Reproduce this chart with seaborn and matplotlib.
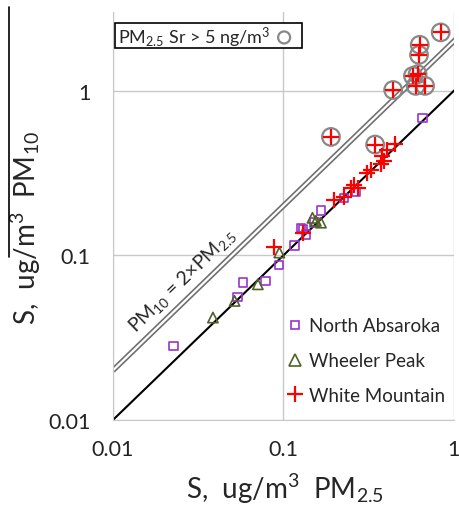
import numpy as np
import pandas as pd
import matplotlib
matplotlib.use("Agg")
import matplotlib.pyplot as plt
from matplotlib.lines import Line2D
from matplotlib.patches import Rectangle
import seaborn as sns

# data (S, ug/m3): PM2.5 vs PM10
na_pm25 = [0.0227, 0.0539, 0.0578, 0.0785, 0.0946, 0.116, 0.136, 0.130, 0.127, 0.152, 0.166, 0.227, 0.266, 0.653]
na_pm10 = [0.0282, 0.0559, 0.0683, 0.0699, 0.087, 0.115, 0.134, 0.144, 0.147, 0.158, 0.187, 0.224, 0.242, 0.683]

wp_pm25 = [0.0386, 0.0517, 0.0708, 0.0946, 0.148, 0.166, 0.155]
wp_pm10 = [0.0419, 0.0529, 0.0667, 0.104, 0.169, 0.158, 0.162]

wm_pm25 = [0.0886, 0.130, 0.199, 0.227, 0.248, 0.272, 0.26, 0.31, 0.326, 0.373, 0.39, 0.381, 0.407, 0.454]
wm_pm10 = [0.112, 0.137, 0.218, 0.227, 0.257, 0.255, 0.269, 0.317, 0.332, 0.357, 0.373, 0.40, 0.439, 0.475]

# White Mountain samples with PM2.5 Sr > 5 ng/m3 (circled)
sr_pm25 = [0.836, 0.63, 0.624, 0.575, 0.612, 0.597, 0.677, 0.44, 0.19, 0.345]
sr_pm10 = [2.26, 1.90, 1.65, 1.23, 1.26, 1.07, 1.07, 1.01, 0.524, 0.471]

sites = ["North Absaroka", "Wheeler Peak", "White Mountain"]

df = pd.concat([
    pd.DataFrame({"pm25": na_pm25, "pm10": na_pm10, "site": sites[0]}),
    pd.DataFrame({"pm25": wp_pm25, "pm10": wp_pm10, "site": sites[1]}),
    pd.DataFrame({"pm25": wm_pm25 + sr_pm25, "pm10": wm_pm10 + sr_pm10, "site": sites[2]}),
], ignore_index=True)
sr = pd.DataFrame({"pm25": sr_pm25, "pm10": sr_pm10})

sns.set_style("white")
plt.rcParams['font.family'] = ['Lato', 'DejaVu Sans']
plt.rcParams['mathtext.fontset'] = 'custom'
plt.rcParams['mathtext.rm'] = 'Lato'
plt.rcParams['mathtext.it'] = 'Lato:italic'
plt.rcParams['mathtext.bf'] = 'Lato:bold'

fig = plt.figure(figsize=(4.59, 5.06), dpi=100)
ax = fig.add_axes([0.246, 0.168, 0.743, 0.806])

# reference lines
xx = np.array([0.01, 1.6])
ax.plot(xx, 2 * xx, color="#707070", lw=4.0, zorder=1, solid_capstyle="butt")
ax.plot(xx, 2 * xx, color="white", lw=1.6, zorder=1.1, solid_capstyle="butt")
ax.plot(xx, xx, color="black", lw=1.5, zorder=1)

# circles for high Sr
sns.scatterplot(data=sr, x="pm25", y="pm10", ax=ax, marker="o", s=160,
                facecolor="none", edgecolor="#888888", linewidth=1.6, zorder=2, legend=False)

colors = {"North Absaroka": "#9933CC", "Wheeler Peak": "#4F6228", "White Mountain": "#FF0000"}
sub = df[df.site == sites[0]]
ax.scatter(sub.pm25, sub.pm10, marker="s", s=36, facecolor="none", edgecolor=colors[sites[0]], linewidth=1.2, zorder=3)
sub = df[df.site == sites[1]]
ax.scatter(sub.pm25, sub.pm10, marker="^", s=55, facecolor="none", edgecolor=colors[sites[1]], linewidth=1.2, zorder=3)
sub = df[df.site == sites[2]]
ax.scatter(sub.pm25, sub.pm10, marker="+", s=120, color=colors[sites[2]], linewidth=1.6, zorder=4)

ax.set_xscale("log")
ax.set_yscale("log")
ax.set_xlim(0.01, 1)
ax.set_ylim(0.01, 3.0)
ax.set_xticks([0.01, 0.1, 1])
ax.set_xticklabels(["0.01", "0.1", "1"])
ax.set_yticks([0.01, 0.1, 1])
ax.set_yticklabels(["0.01", "0.1", "1"])
ax.minorticks_off()
ax.tick_params(axis="x", length=0, labelsize=15.5, pad=14, colors="#222222")
ax.tick_params(axis="y", length=0, labelsize=15.5, pad=16, colors="#222222")
ax.grid(True, which="major", color="#c8c8c8", lw=1)
for s in ["top", "right"]:
    ax.spines[s].set_visible(False)
for s in ["left", "bottom"]:
    ax.spines[s].set_color("#c8c8c8")

ax.set_xlabel(r"S,  ug/m$^3$  PM$_{2.5}$", fontsize=20)
ax.xaxis.set_label_coords(0.503, -0.125)
ax.set_ylabel(r"S,  ug/m$^3$  PM$_{10}$", fontsize=20)
ax.yaxis.set_label_coords(-0.205, 0.473)

# 2x line label
ax.text(0.0255, 0.071, r"PM$_{10}$ = 2×PM$_{2.5}$", rotation=44, fontsize=14,
        ha="center", va="center", rotation_mode="anchor")

# legend for sites
handles = [
    Line2D([], [], ls="none", marker="s", ms=6, mfc="none", mec=colors[sites[0]], mew=1.2),
    Line2D([], [], ls="none", marker="^", ms=8, mfc="none", mec=colors[sites[1]], mew=1.2),
    Line2D([], [], ls="none", marker="+", ms=11, color=colors[sites[2]], mew=1.6),
]
ax.legend(handles, sites, loc="lower right", bbox_to_anchor=(1.025, -0.002), frameon=False,
          fontsize=13.5, handletextpad=0.05, labelspacing=0.95, handlelength=1.4)

# box for Sr circles
ax.add_patch(Rectangle((0.006, 0.912), 0.549, 0.061, transform=ax.transAxes,
                       facecolor="white", edgecolor="black", lw=1.2, zorder=5))
ax.text(0.015, 0.940, r"PM$_{2.5}$ Sr > 5 ng/m$^3$", transform=ax.transAxes, fontsize=13,
        va="center", ha="left", zorder=6)
ax.scatter([0.502], [0.938], transform=ax.transAxes, marker="o", s=75, facecolor="none",
           edgecolor="#888888", linewidth=1.6, zorder=6, clip_on=False)

# stray line over the y label
fig.add_artist(Line2D([0.0196, 0.0196], [0.984, 0.49], color="black", lw=1.2))

fig.savefig("out.png", dpi=100)
